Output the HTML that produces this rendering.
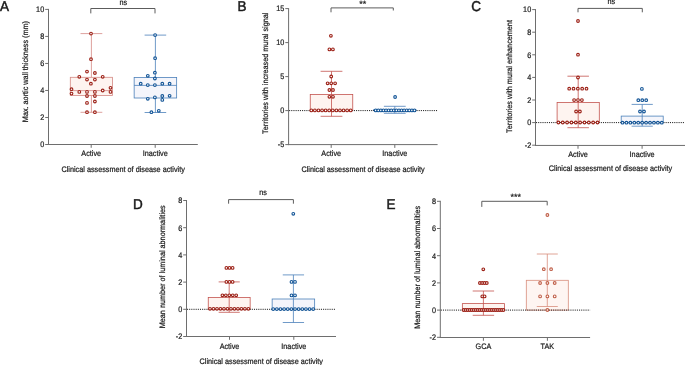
<!DOCTYPE html>
<html><head><meta charset="utf-8"><style>
html,body{margin:0;padding:0;background:#fff;width:685px;height:365px;overflow:hidden}
svg{display:block;font-family:"Liberation Sans",sans-serif;text-rendering:geometricPrecision}
#w{width:685px;height:365px;will-change:transform}
</style></head><body>
<div id="w"><svg width="685" height="365" viewBox="0 0 685 365">
<g><rect width="685" height="365" fill="#fff"/>
<line x1="48.50" y1="8.90" x2="48.50" y2="145.00" stroke="#6e6e6e" stroke-width="1.0" />
<line x1="48.00" y1="144.50" x2="197.80" y2="144.50" stroke="#6e6e6e" stroke-width="1.0" />
<line x1="45.20" y1="144.50" x2="48.50" y2="144.50" stroke="#6e6e6e" stroke-width="1.0" />
<text transform="translate(44.20 147.30) scale(1 1.1)" font-size="7.25" text-anchor="end" fill="#1a1a1a" stroke="#1a1a1a" stroke-width="0.2">0</text>
<line x1="45.20" y1="117.48" x2="48.50" y2="117.48" stroke="#6e6e6e" stroke-width="1.0" />
<text transform="translate(44.20 120.28) scale(1 1.1)" font-size="7.25" text-anchor="end" fill="#1a1a1a" stroke="#1a1a1a" stroke-width="0.2">2</text>
<line x1="45.20" y1="90.46" x2="48.50" y2="90.46" stroke="#6e6e6e" stroke-width="1.0" />
<text transform="translate(44.20 93.26) scale(1 1.1)" font-size="7.25" text-anchor="end" fill="#1a1a1a" stroke="#1a1a1a" stroke-width="0.2">4</text>
<line x1="45.20" y1="63.44" x2="48.50" y2="63.44" stroke="#6e6e6e" stroke-width="1.0" />
<text transform="translate(44.20 66.24) scale(1 1.1)" font-size="7.25" text-anchor="end" fill="#1a1a1a" stroke="#1a1a1a" stroke-width="0.2">6</text>
<line x1="45.20" y1="36.42" x2="48.50" y2="36.42" stroke="#6e6e6e" stroke-width="1.0" />
<text transform="translate(44.20 39.22) scale(1 1.1)" font-size="7.25" text-anchor="end" fill="#1a1a1a" stroke="#1a1a1a" stroke-width="0.2">8</text>
<line x1="45.20" y1="9.40" x2="48.50" y2="9.40" stroke="#6e6e6e" stroke-width="1.0" />
<text transform="translate(44.20 12.20) scale(1 1.1)" font-size="7.25" text-anchor="end" fill="#1a1a1a" stroke="#1a1a1a" stroke-width="0.2">10</text>
<line x1="91.20" y1="144.50" x2="91.20" y2="147.80" stroke="#6e6e6e" stroke-width="1.0" />
<line x1="155.20" y1="144.50" x2="155.20" y2="147.80" stroke="#6e6e6e" stroke-width="1.0" />
<text transform="translate(91.20 156.20) scale(1 1.1)" font-size="7.25" text-anchor="middle" fill="#1a1a1a" stroke="#1a1a1a" stroke-width="0.2">Active</text>
<text transform="translate(155.20 156.20) scale(1 1.1)" font-size="7.25" text-anchor="middle" fill="#1a1a1a" stroke="#1a1a1a" stroke-width="0.2">Inactive</text>
<text transform="translate(123.15 172.40) scale(1 1.1)" font-size="7.25" text-anchor="middle" fill="#1a1a1a" stroke="#1a1a1a" stroke-width="0.2">Clinical assessment of disease activity</text>
<text transform="translate(28.40 71.60) rotate(-90) scale(1 1.1)" font-size="7.25" text-anchor="middle" fill="#1a1a1a" stroke="#1a1a1a" stroke-width="0.2">Max. aortic wall thickness (mm)</text>
<line x1="91.40" y1="33.60" x2="91.40" y2="77.30" stroke="#d48984" stroke-width="0.8" />
<line x1="91.40" y1="95.40" x2="91.40" y2="112.30" stroke="#d48984" stroke-width="0.8" />
<line x1="80.50" y1="33.60" x2="102.30" y2="33.60" stroke="#d48984" stroke-width="0.8" />
<line x1="80.50" y1="112.30" x2="102.30" y2="112.30" stroke="#d48984" stroke-width="0.8" />
<rect x="70.30" y="77.30" width="42.20" height="18.10" fill="#fef4f0" stroke="#d48984" stroke-width="0.8"/>
<line x1="70.30" y1="90.60" x2="112.50" y2="90.60" stroke="#d48984" stroke-width="0.8" />
<line x1="155.40" y1="35.10" x2="155.40" y2="77.40" stroke="#4b80ba" stroke-width="0.8" />
<line x1="155.40" y1="98.00" x2="155.40" y2="112.50" stroke="#4b80ba" stroke-width="0.8" />
<line x1="144.60" y1="35.10" x2="166.20" y2="35.10" stroke="#4b80ba" stroke-width="0.8" />
<line x1="144.60" y1="112.50" x2="166.20" y2="112.50" stroke="#4b80ba" stroke-width="0.8" />
<rect x="134.15" y="77.40" width="42.50" height="20.60" fill="#f4f5fb" stroke="#4b80ba" stroke-width="0.8"/>
<line x1="134.15" y1="85.40" x2="176.65" y2="85.40" stroke="#4b80ba" stroke-width="0.8" />
<circle cx="91.00" cy="33.60" r="1.35" fill="#fff" stroke="#9c2016" stroke-width="1.1"/>
<circle cx="91.00" cy="59.20" r="1.35" fill="#fff" stroke="#9c2016" stroke-width="1.1"/>
<circle cx="87.00" cy="71.60" r="1.35" fill="#fff" stroke="#9c2016" stroke-width="1.1"/>
<circle cx="94.90" cy="73.00" r="1.35" fill="#fff" stroke="#9c2016" stroke-width="1.1"/>
<circle cx="79.30" cy="76.80" r="1.35" fill="#fff" stroke="#9c2016" stroke-width="1.1"/>
<circle cx="102.70" cy="76.80" r="1.35" fill="#fff" stroke="#9c2016" stroke-width="1.1"/>
<circle cx="87.00" cy="79.60" r="1.35" fill="#fff" stroke="#9c2016" stroke-width="1.1"/>
<circle cx="94.90" cy="79.60" r="1.35" fill="#fff" stroke="#9c2016" stroke-width="1.1"/>
<circle cx="90.90" cy="83.70" r="1.35" fill="#fff" stroke="#9c2016" stroke-width="1.1"/>
<circle cx="71.50" cy="89.20" r="1.35" fill="#fff" stroke="#9c2016" stroke-width="1.1"/>
<circle cx="71.50" cy="93.60" r="1.35" fill="#fff" stroke="#9c2016" stroke-width="1.1"/>
<circle cx="79.30" cy="91.90" r="1.35" fill="#fff" stroke="#9c2016" stroke-width="1.1"/>
<circle cx="87.00" cy="91.90" r="1.35" fill="#fff" stroke="#9c2016" stroke-width="1.1"/>
<circle cx="94.90" cy="91.90" r="1.35" fill="#fff" stroke="#9c2016" stroke-width="1.1"/>
<circle cx="102.70" cy="90.50" r="1.35" fill="#fff" stroke="#9c2016" stroke-width="1.1"/>
<circle cx="110.50" cy="87.80" r="1.35" fill="#fff" stroke="#9c2016" stroke-width="1.1"/>
<circle cx="110.50" cy="91.90" r="1.35" fill="#fff" stroke="#9c2016" stroke-width="1.1"/>
<circle cx="87.00" cy="96.00" r="1.35" fill="#fff" stroke="#9c2016" stroke-width="1.1"/>
<circle cx="94.90" cy="96.00" r="1.35" fill="#fff" stroke="#9c2016" stroke-width="1.1"/>
<circle cx="87.00" cy="102.90" r="1.35" fill="#fff" stroke="#9c2016" stroke-width="1.1"/>
<circle cx="94.90" cy="101.50" r="1.35" fill="#fff" stroke="#9c2016" stroke-width="1.1"/>
<circle cx="87.00" cy="112.20" r="1.35" fill="#fff" stroke="#9c2016" stroke-width="1.1"/>
<circle cx="94.90" cy="112.20" r="1.35" fill="#fff" stroke="#9c2016" stroke-width="1.1"/>
<circle cx="155.10" cy="35.10" r="1.35" fill="#fff" stroke="#135597" stroke-width="1.1"/>
<circle cx="155.10" cy="58.20" r="1.35" fill="#fff" stroke="#135597" stroke-width="1.1"/>
<circle cx="154.90" cy="72.70" r="1.35" fill="#fff" stroke="#135597" stroke-width="1.1"/>
<circle cx="147.80" cy="75.80" r="1.35" fill="#fff" stroke="#135597" stroke-width="1.1"/>
<circle cx="154.90" cy="78.50" r="1.35" fill="#fff" stroke="#135597" stroke-width="1.1"/>
<circle cx="140.70" cy="83.70" r="1.35" fill="#fff" stroke="#135597" stroke-width="1.1"/>
<circle cx="147.80" cy="85.10" r="1.35" fill="#fff" stroke="#135597" stroke-width="1.1"/>
<circle cx="154.90" cy="85.10" r="1.35" fill="#fff" stroke="#135597" stroke-width="1.1"/>
<circle cx="162.30" cy="83.70" r="1.35" fill="#fff" stroke="#135597" stroke-width="1.1"/>
<circle cx="169.60" cy="83.70" r="1.35" fill="#fff" stroke="#135597" stroke-width="1.1"/>
<circle cx="147.80" cy="98.80" r="1.35" fill="#fff" stroke="#135597" stroke-width="1.1"/>
<circle cx="154.90" cy="97.40" r="1.35" fill="#fff" stroke="#135597" stroke-width="1.1"/>
<circle cx="162.30" cy="96.00" r="1.35" fill="#fff" stroke="#135597" stroke-width="1.1"/>
<circle cx="162.30" cy="99.90" r="1.35" fill="#fff" stroke="#135597" stroke-width="1.1"/>
<circle cx="169.60" cy="95.80" r="1.35" fill="#fff" stroke="#135597" stroke-width="1.1"/>
<circle cx="151.40" cy="112.20" r="1.35" fill="#fff" stroke="#135597" stroke-width="1.1"/>
<circle cx="158.80" cy="110.80" r="1.35" fill="#fff" stroke="#135597" stroke-width="1.1"/>
<path d="M90.80 13.40 V8.50 H155.00 V13.40" fill="none" stroke="#5c5c5c" stroke-width="1"/>
<text transform="translate(123.30 4.90) scale(1 1.1)" font-size="7.25" text-anchor="middle" fill="#1a1a1a" stroke="#1a1a1a" stroke-width="0.2">ns</text>
<line x1="288.60" y1="8.10" x2="288.60" y2="145.10" stroke="#6e6e6e" stroke-width="1.0" />
<line x1="288.10" y1="144.60" x2="437.60" y2="144.60" stroke="#6e6e6e" stroke-width="1.0" />
<line x1="285.30" y1="144.60" x2="288.60" y2="144.60" stroke="#6e6e6e" stroke-width="1.0" />
<text transform="translate(284.30 147.40) scale(1 1.1)" font-size="7.25" text-anchor="end" fill="#1a1a1a" stroke="#1a1a1a" stroke-width="0.2">-5</text>
<line x1="285.30" y1="110.60" x2="288.60" y2="110.60" stroke="#6e6e6e" stroke-width="1.0" />
<text transform="translate(284.30 113.40) scale(1 1.1)" font-size="7.25" text-anchor="end" fill="#1a1a1a" stroke="#1a1a1a" stroke-width="0.2">0</text>
<line x1="285.30" y1="76.60" x2="288.60" y2="76.60" stroke="#6e6e6e" stroke-width="1.0" />
<text transform="translate(284.30 79.40) scale(1 1.1)" font-size="7.25" text-anchor="end" fill="#1a1a1a" stroke="#1a1a1a" stroke-width="0.2">5</text>
<line x1="285.30" y1="42.60" x2="288.60" y2="42.60" stroke="#6e6e6e" stroke-width="1.0" />
<text transform="translate(284.30 45.40) scale(1 1.1)" font-size="7.25" text-anchor="end" fill="#1a1a1a" stroke="#1a1a1a" stroke-width="0.2">10</text>
<line x1="285.30" y1="8.60" x2="288.60" y2="8.60" stroke="#6e6e6e" stroke-width="1.0" />
<text transform="translate(284.30 11.40) scale(1 1.1)" font-size="7.25" text-anchor="end" fill="#1a1a1a" stroke="#1a1a1a" stroke-width="0.2">15</text>
<line x1="331.20" y1="144.60" x2="331.20" y2="147.90" stroke="#6e6e6e" stroke-width="1.0" />
<line x1="394.80" y1="144.60" x2="394.80" y2="147.90" stroke="#6e6e6e" stroke-width="1.0" />
<text transform="translate(331.20 155.80) scale(1 1.1)" font-size="7.25" text-anchor="middle" fill="#1a1a1a" stroke="#1a1a1a" stroke-width="0.2">Active</text>
<text transform="translate(394.80 155.80) scale(1 1.1)" font-size="7.25" text-anchor="middle" fill="#1a1a1a" stroke="#1a1a1a" stroke-width="0.2">Inactive</text>
<text transform="translate(363.10 171.80) scale(1 1.1)" font-size="7.25" text-anchor="middle" fill="#1a1a1a" stroke="#1a1a1a" stroke-width="0.2">Clinical assessment of disease activity</text>
<text transform="translate(268.30 73.30) rotate(-90) scale(1 1.1)" font-size="7.25" text-anchor="middle" fill="#1a1a1a" stroke="#1a1a1a" stroke-width="0.2">Territories with increased mural signal</text>
<rect x="310.25" y="94.50" width="42.50" height="16.10" fill="#fef4f0" stroke="#c4544f" stroke-width="0.8"/>
<line x1="331.50" y1="71.30" x2="331.50" y2="116.30" stroke="#c4544f" stroke-width="0.8" />
<line x1="320.60" y1="71.30" x2="342.40" y2="71.30" stroke="#c4544f" stroke-width="0.8" />
<line x1="320.60" y1="116.30" x2="342.40" y2="116.30" stroke="#c4544f" stroke-width="0.8" />
<rect x="373.55" y="109.80" width="42.50" height="0.80" fill="#f4f5fb" stroke="#4b80ba" stroke-width="0.8"/>
<line x1="394.80" y1="106.30" x2="394.80" y2="113.30" stroke="#4b80ba" stroke-width="0.8" />
<line x1="383.90" y1="106.30" x2="405.70" y2="106.30" stroke="#4b80ba" stroke-width="0.8" />
<line x1="383.90" y1="113.30" x2="405.70" y2="113.30" stroke="#4b80ba" stroke-width="0.8" />
<line x1="289.10" y1="110.60" x2="437.60" y2="110.60" stroke="#1a1a1a" stroke-width="1.0" stroke-dasharray="1.08 1.08"/>
<circle cx="330.90" cy="35.80" r="1.35" fill="#fff" stroke="#9c2016" stroke-width="1.1"/>
<circle cx="329.40" cy="49.40" r="1.35" fill="#fff" stroke="#9c2016" stroke-width="1.1"/>
<circle cx="332.90" cy="49.40" r="1.35" fill="#fff" stroke="#9c2016" stroke-width="1.1"/>
<circle cx="331.20" cy="76.50" r="1.35" fill="#fff" stroke="#9c2016" stroke-width="1.1"/>
<circle cx="327.60" cy="83.30" r="1.35" fill="#fff" stroke="#9c2016" stroke-width="1.1"/>
<circle cx="331.20" cy="83.30" r="1.35" fill="#fff" stroke="#9c2016" stroke-width="1.1"/>
<circle cx="335.10" cy="83.30" r="1.35" fill="#fff" stroke="#9c2016" stroke-width="1.1"/>
<circle cx="329.40" cy="90.00" r="1.35" fill="#fff" stroke="#9c2016" stroke-width="1.1"/>
<circle cx="333.00" cy="90.00" r="1.35" fill="#fff" stroke="#9c2016" stroke-width="1.1"/>
<circle cx="329.40" cy="96.80" r="1.35" fill="#fff" stroke="#9c2016" stroke-width="1.1"/>
<circle cx="333.00" cy="96.80" r="1.35" fill="#fff" stroke="#9c2016" stroke-width="1.1"/>
<circle cx="311.30" cy="110.40" r="1.35" fill="#fff" stroke="#9c2016" stroke-width="1.1"/>
<circle cx="314.88" cy="110.40" r="1.35" fill="#fff" stroke="#9c2016" stroke-width="1.1"/>
<circle cx="318.46" cy="110.40" r="1.35" fill="#fff" stroke="#9c2016" stroke-width="1.1"/>
<circle cx="322.05" cy="110.40" r="1.35" fill="#fff" stroke="#9c2016" stroke-width="1.1"/>
<circle cx="325.63" cy="110.40" r="1.35" fill="#fff" stroke="#9c2016" stroke-width="1.1"/>
<circle cx="329.21" cy="110.40" r="1.35" fill="#fff" stroke="#9c2016" stroke-width="1.1"/>
<circle cx="332.79" cy="110.40" r="1.35" fill="#fff" stroke="#9c2016" stroke-width="1.1"/>
<circle cx="336.37" cy="110.40" r="1.35" fill="#fff" stroke="#9c2016" stroke-width="1.1"/>
<circle cx="339.95" cy="110.40" r="1.35" fill="#fff" stroke="#9c2016" stroke-width="1.1"/>
<circle cx="343.54" cy="110.40" r="1.35" fill="#fff" stroke="#9c2016" stroke-width="1.1"/>
<circle cx="347.12" cy="110.40" r="1.35" fill="#fff" stroke="#9c2016" stroke-width="1.1"/>
<circle cx="350.70" cy="110.40" r="1.35" fill="#fff" stroke="#9c2016" stroke-width="1.1"/>
<circle cx="395.10" cy="97.00" r="1.35" fill="#fff" stroke="#135597" stroke-width="1.1"/>
<circle cx="375.70" cy="110.40" r="1.35" fill="#fff" stroke="#135597" stroke-width="1.1"/>
<circle cx="378.29" cy="110.40" r="1.35" fill="#fff" stroke="#135597" stroke-width="1.1"/>
<circle cx="380.87" cy="110.40" r="1.35" fill="#fff" stroke="#135597" stroke-width="1.1"/>
<circle cx="383.46" cy="110.40" r="1.35" fill="#fff" stroke="#135597" stroke-width="1.1"/>
<circle cx="386.05" cy="110.40" r="1.35" fill="#fff" stroke="#135597" stroke-width="1.1"/>
<circle cx="388.63" cy="110.40" r="1.35" fill="#fff" stroke="#135597" stroke-width="1.1"/>
<circle cx="391.22" cy="110.40" r="1.35" fill="#fff" stroke="#135597" stroke-width="1.1"/>
<circle cx="393.81" cy="110.40" r="1.35" fill="#fff" stroke="#135597" stroke-width="1.1"/>
<circle cx="396.39" cy="110.40" r="1.35" fill="#fff" stroke="#135597" stroke-width="1.1"/>
<circle cx="398.98" cy="110.40" r="1.35" fill="#fff" stroke="#135597" stroke-width="1.1"/>
<circle cx="401.57" cy="110.40" r="1.35" fill="#fff" stroke="#135597" stroke-width="1.1"/>
<circle cx="404.15" cy="110.40" r="1.35" fill="#fff" stroke="#135597" stroke-width="1.1"/>
<circle cx="406.74" cy="110.40" r="1.35" fill="#fff" stroke="#135597" stroke-width="1.1"/>
<circle cx="409.33" cy="110.40" r="1.35" fill="#fff" stroke="#135597" stroke-width="1.1"/>
<circle cx="411.91" cy="110.40" r="1.35" fill="#fff" stroke="#135597" stroke-width="1.1"/>
<circle cx="414.50" cy="110.40" r="1.35" fill="#fff" stroke="#135597" stroke-width="1.1"/>
<path d="M331.00 12.30 V7.90 H393.30 V10.50" fill="none" stroke="#5c5c5c" stroke-width="1"/>
<text transform="translate(362.70 6.90) scale(1 1.0)" font-size="9" text-anchor="middle" fill="#1a1a1a" stroke="#1a1a1a" stroke-width="0.2">**</text>
<line x1="535.50" y1="9.10" x2="535.50" y2="145.95" stroke="#6e6e6e" stroke-width="1.0" />
<line x1="535.00" y1="145.45" x2="685.50" y2="145.45" stroke="#6e6e6e" stroke-width="1.0" />
<line x1="532.20" y1="145.20" x2="535.50" y2="145.20" stroke="#6e6e6e" stroke-width="1.0" />
<text transform="translate(531.20 148.00) scale(1 1.1)" font-size="7.25" text-anchor="end" fill="#1a1a1a" stroke="#1a1a1a" stroke-width="0.2">-2</text>
<line x1="532.20" y1="122.60" x2="535.50" y2="122.60" stroke="#6e6e6e" stroke-width="1.0" />
<text transform="translate(531.20 125.40) scale(1 1.1)" font-size="7.25" text-anchor="end" fill="#1a1a1a" stroke="#1a1a1a" stroke-width="0.2">0</text>
<line x1="532.20" y1="100.00" x2="535.50" y2="100.00" stroke="#6e6e6e" stroke-width="1.0" />
<text transform="translate(531.20 102.80) scale(1 1.1)" font-size="7.25" text-anchor="end" fill="#1a1a1a" stroke="#1a1a1a" stroke-width="0.2">2</text>
<line x1="532.20" y1="77.40" x2="535.50" y2="77.40" stroke="#6e6e6e" stroke-width="1.0" />
<text transform="translate(531.20 80.20) scale(1 1.1)" font-size="7.25" text-anchor="end" fill="#1a1a1a" stroke="#1a1a1a" stroke-width="0.2">4</text>
<line x1="532.20" y1="54.80" x2="535.50" y2="54.80" stroke="#6e6e6e" stroke-width="1.0" />
<text transform="translate(531.20 57.60) scale(1 1.1)" font-size="7.25" text-anchor="end" fill="#1a1a1a" stroke="#1a1a1a" stroke-width="0.2">6</text>
<line x1="532.20" y1="32.20" x2="535.50" y2="32.20" stroke="#6e6e6e" stroke-width="1.0" />
<text transform="translate(531.20 35.00) scale(1 1.1)" font-size="7.25" text-anchor="end" fill="#1a1a1a" stroke="#1a1a1a" stroke-width="0.2">8</text>
<line x1="532.20" y1="9.60" x2="535.50" y2="9.60" stroke="#6e6e6e" stroke-width="1.0" />
<text transform="translate(531.20 12.40) scale(1 1.1)" font-size="7.25" text-anchor="end" fill="#1a1a1a" stroke="#1a1a1a" stroke-width="0.2">10</text>
<line x1="578.00" y1="145.45" x2="578.00" y2="148.75" stroke="#6e6e6e" stroke-width="1.0" />
<line x1="642.10" y1="145.45" x2="642.10" y2="148.75" stroke="#6e6e6e" stroke-width="1.0" />
<text transform="translate(578.00 156.50) scale(1 1.1)" font-size="7.25" text-anchor="middle" fill="#1a1a1a" stroke="#1a1a1a" stroke-width="0.2">Active</text>
<text transform="translate(642.10 156.50) scale(1 1.1)" font-size="7.25" text-anchor="middle" fill="#1a1a1a" stroke="#1a1a1a" stroke-width="0.2">Inactive</text>
<text transform="translate(610.50 170.70) scale(1 1.1)" font-size="7.25" text-anchor="middle" fill="#1a1a1a" stroke="#1a1a1a" stroke-width="0.2">Clinical assessment of disease activity</text>
<text transform="translate(511.90 76.50) rotate(-90) scale(1 1.1)" font-size="7.25" text-anchor="middle" fill="#1a1a1a" stroke="#1a1a1a" stroke-width="0.2">Territories with mural enhancement</text>
<rect x="557.10" y="102.40" width="42.20" height="20.20" fill="#fef4f0" stroke="#c4544f" stroke-width="0.8"/>
<line x1="578.20" y1="76.20" x2="578.20" y2="127.70" stroke="#c4544f" stroke-width="0.8" />
<line x1="567.45" y1="76.20" x2="588.95" y2="76.20" stroke="#c4544f" stroke-width="0.8" />
<line x1="567.45" y1="127.70" x2="588.95" y2="127.70" stroke="#c4544f" stroke-width="0.8" />
<rect x="621.20" y="116.10" width="42.00" height="6.50" fill="#f4f5fb" stroke="#4b80ba" stroke-width="0.8"/>
<line x1="642.20" y1="104.40" x2="642.20" y2="126.20" stroke="#4b80ba" stroke-width="0.8" />
<line x1="631.60" y1="104.40" x2="652.80" y2="104.40" stroke="#4b80ba" stroke-width="0.8" />
<line x1="631.60" y1="126.20" x2="652.80" y2="126.20" stroke="#4b80ba" stroke-width="0.8" />
<line x1="536.00" y1="122.60" x2="685.50" y2="122.60" stroke="#1a1a1a" stroke-width="1.0" stroke-dasharray="1.08 1.08"/>
<circle cx="578.00" cy="21.00" r="1.35" fill="#fff" stroke="#9c2016" stroke-width="1.1"/>
<circle cx="578.00" cy="54.70" r="1.35" fill="#fff" stroke="#9c2016" stroke-width="1.1"/>
<circle cx="578.00" cy="77.50" r="1.35" fill="#fff" stroke="#9c2016" stroke-width="1.1"/>
<circle cx="576.10" cy="111.50" r="1.35" fill="#fff" stroke="#9c2016" stroke-width="1.1"/>
<circle cx="579.90" cy="111.50" r="1.35" fill="#fff" stroke="#9c2016" stroke-width="1.1"/>
<circle cx="569.20" cy="88.70" r="1.35" fill="#fff" stroke="#9c2016" stroke-width="1.1"/>
<circle cx="573.53" cy="88.70" r="1.35" fill="#fff" stroke="#9c2016" stroke-width="1.1"/>
<circle cx="577.85" cy="88.70" r="1.35" fill="#fff" stroke="#9c2016" stroke-width="1.1"/>
<circle cx="582.17" cy="88.70" r="1.35" fill="#fff" stroke="#9c2016" stroke-width="1.1"/>
<circle cx="586.50" cy="88.70" r="1.35" fill="#fff" stroke="#9c2016" stroke-width="1.1"/>
<circle cx="574.10" cy="100.10" r="1.35" fill="#fff" stroke="#9c2016" stroke-width="1.1"/>
<circle cx="578.00" cy="100.10" r="1.35" fill="#fff" stroke="#9c2016" stroke-width="1.1"/>
<circle cx="581.90" cy="100.10" r="1.35" fill="#fff" stroke="#9c2016" stroke-width="1.1"/>
<circle cx="558.40" cy="122.50" r="1.35" fill="#fff" stroke="#9c2016" stroke-width="1.1"/>
<circle cx="562.74" cy="122.50" r="1.35" fill="#fff" stroke="#9c2016" stroke-width="1.1"/>
<circle cx="567.09" cy="122.50" r="1.35" fill="#fff" stroke="#9c2016" stroke-width="1.1"/>
<circle cx="571.43" cy="122.50" r="1.35" fill="#fff" stroke="#9c2016" stroke-width="1.1"/>
<circle cx="575.78" cy="122.50" r="1.35" fill="#fff" stroke="#9c2016" stroke-width="1.1"/>
<circle cx="580.12" cy="122.50" r="1.35" fill="#fff" stroke="#9c2016" stroke-width="1.1"/>
<circle cx="584.47" cy="122.50" r="1.35" fill="#fff" stroke="#9c2016" stroke-width="1.1"/>
<circle cx="588.81" cy="122.50" r="1.35" fill="#fff" stroke="#9c2016" stroke-width="1.1"/>
<circle cx="593.16" cy="122.50" r="1.35" fill="#fff" stroke="#9c2016" stroke-width="1.1"/>
<circle cx="597.50" cy="122.50" r="1.35" fill="#fff" stroke="#9c2016" stroke-width="1.1"/>
<circle cx="641.90" cy="88.90" r="1.35" fill="#fff" stroke="#135597" stroke-width="1.1"/>
<circle cx="640.00" cy="111.50" r="1.35" fill="#fff" stroke="#135597" stroke-width="1.1"/>
<circle cx="644.00" cy="111.50" r="1.35" fill="#fff" stroke="#135597" stroke-width="1.1"/>
<circle cx="638.30" cy="100.20" r="1.35" fill="#fff" stroke="#135597" stroke-width="1.1"/>
<circle cx="642.25" cy="100.20" r="1.35" fill="#fff" stroke="#135597" stroke-width="1.1"/>
<circle cx="646.20" cy="100.20" r="1.35" fill="#fff" stroke="#135597" stroke-width="1.1"/>
<circle cx="622.50" cy="122.70" r="1.35" fill="#fff" stroke="#135597" stroke-width="1.1"/>
<circle cx="626.43" cy="122.70" r="1.35" fill="#fff" stroke="#135597" stroke-width="1.1"/>
<circle cx="630.36" cy="122.70" r="1.35" fill="#fff" stroke="#135597" stroke-width="1.1"/>
<circle cx="634.29" cy="122.70" r="1.35" fill="#fff" stroke="#135597" stroke-width="1.1"/>
<circle cx="638.22" cy="122.70" r="1.35" fill="#fff" stroke="#135597" stroke-width="1.1"/>
<circle cx="642.15" cy="122.70" r="1.35" fill="#fff" stroke="#135597" stroke-width="1.1"/>
<circle cx="646.08" cy="122.70" r="1.35" fill="#fff" stroke="#135597" stroke-width="1.1"/>
<circle cx="650.01" cy="122.70" r="1.35" fill="#fff" stroke="#135597" stroke-width="1.1"/>
<circle cx="653.94" cy="122.70" r="1.35" fill="#fff" stroke="#135597" stroke-width="1.1"/>
<circle cx="657.87" cy="122.70" r="1.35" fill="#fff" stroke="#135597" stroke-width="1.1"/>
<circle cx="661.80" cy="122.70" r="1.35" fill="#fff" stroke="#135597" stroke-width="1.1"/>
<path d="M578.00 12.30 V8.40 H642.30 V12.30" fill="none" stroke="#5c5c5c" stroke-width="1"/>
<text transform="translate(611.30 4.10) scale(1 1.1)" font-size="7.25" text-anchor="middle" fill="#1a1a1a" stroke="#1a1a1a" stroke-width="0.2">ns</text>
<line x1="186.50" y1="200.00" x2="186.50" y2="337.00" stroke="#6e6e6e" stroke-width="1.0" />
<line x1="186.00" y1="336.50" x2="336.00" y2="336.50" stroke="#6e6e6e" stroke-width="1.0" />
<line x1="183.20" y1="336.50" x2="186.50" y2="336.50" stroke="#6e6e6e" stroke-width="1.0" />
<text transform="translate(182.20 339.30) scale(1 1.1)" font-size="7.25" text-anchor="end" fill="#1a1a1a" stroke="#1a1a1a" stroke-width="0.2">-2</text>
<line x1="183.20" y1="309.30" x2="186.50" y2="309.30" stroke="#6e6e6e" stroke-width="1.0" />
<text transform="translate(182.20 312.10) scale(1 1.1)" font-size="7.25" text-anchor="end" fill="#1a1a1a" stroke="#1a1a1a" stroke-width="0.2">0</text>
<line x1="183.20" y1="282.10" x2="186.50" y2="282.10" stroke="#6e6e6e" stroke-width="1.0" />
<text transform="translate(182.20 284.90) scale(1 1.1)" font-size="7.25" text-anchor="end" fill="#1a1a1a" stroke="#1a1a1a" stroke-width="0.2">2</text>
<line x1="183.20" y1="254.90" x2="186.50" y2="254.90" stroke="#6e6e6e" stroke-width="1.0" />
<text transform="translate(182.20 257.70) scale(1 1.1)" font-size="7.25" text-anchor="end" fill="#1a1a1a" stroke="#1a1a1a" stroke-width="0.2">4</text>
<line x1="183.20" y1="227.70" x2="186.50" y2="227.70" stroke="#6e6e6e" stroke-width="1.0" />
<text transform="translate(182.20 230.50) scale(1 1.1)" font-size="7.25" text-anchor="end" fill="#1a1a1a" stroke="#1a1a1a" stroke-width="0.2">6</text>
<line x1="183.20" y1="200.50" x2="186.50" y2="200.50" stroke="#6e6e6e" stroke-width="1.0" />
<text transform="translate(182.20 203.30) scale(1 1.1)" font-size="7.25" text-anchor="end" fill="#1a1a1a" stroke="#1a1a1a" stroke-width="0.2">8</text>
<line x1="229.50" y1="336.50" x2="229.50" y2="339.80" stroke="#6e6e6e" stroke-width="1.0" />
<line x1="293.80" y1="336.50" x2="293.80" y2="339.80" stroke="#6e6e6e" stroke-width="1.0" />
<text transform="translate(229.50 348.70) scale(1 1.1)" font-size="7.25" text-anchor="middle" fill="#1a1a1a" stroke="#1a1a1a" stroke-width="0.2">Active</text>
<text transform="translate(293.80 348.70) scale(1 1.1)" font-size="7.25" text-anchor="middle" fill="#1a1a1a" stroke="#1a1a1a" stroke-width="0.2">Inactive</text>
<text transform="translate(261.25 363.50) scale(1 1.1)" font-size="7.25" text-anchor="middle" fill="#1a1a1a" stroke="#1a1a1a" stroke-width="0.2">Clinical assessment of disease activity</text>
<text transform="translate(164.60 266.80) rotate(-90) scale(1 1.1)" font-size="7.25" text-anchor="middle" fill="#1a1a1a" stroke="#1a1a1a" stroke-width="0.2">Mean number of luminal abnormalities</text>
<rect x="208.25" y="297.50" width="41.90" height="11.80" fill="#fef4f0" stroke="#c4544f" stroke-width="0.8"/>
<line x1="229.20" y1="281.90" x2="229.20" y2="312.30" stroke="#c4544f" stroke-width="0.8" />
<line x1="218.65" y1="281.90" x2="239.75" y2="281.90" stroke="#c4544f" stroke-width="0.8" />
<line x1="218.65" y1="312.30" x2="239.75" y2="312.30" stroke="#c4544f" stroke-width="0.8" />
<rect x="272.15" y="299.00" width="42.50" height="10.30" fill="#f4f5fb" stroke="#4b80ba" stroke-width="0.8"/>
<line x1="293.40" y1="274.90" x2="293.40" y2="322.50" stroke="#4b80ba" stroke-width="0.8" />
<line x1="282.75" y1="274.90" x2="304.05" y2="274.90" stroke="#4b80ba" stroke-width="0.8" />
<line x1="282.75" y1="322.50" x2="304.05" y2="322.50" stroke="#4b80ba" stroke-width="0.8" />
<line x1="187.00" y1="309.30" x2="336.00" y2="309.30" stroke="#1a1a1a" stroke-width="1.0" stroke-dasharray="1.08 1.08"/>
<circle cx="226.40" cy="267.90" r="1.35" fill="#fff" stroke="#9c2016" stroke-width="1.1"/>
<circle cx="229.50" cy="267.90" r="1.35" fill="#fff" stroke="#9c2016" stroke-width="1.1"/>
<circle cx="232.60" cy="267.90" r="1.35" fill="#fff" stroke="#9c2016" stroke-width="1.1"/>
<circle cx="226.40" cy="281.90" r="1.35" fill="#fff" stroke="#9c2016" stroke-width="1.1"/>
<circle cx="229.50" cy="281.90" r="1.35" fill="#fff" stroke="#9c2016" stroke-width="1.1"/>
<circle cx="232.60" cy="281.90" r="1.35" fill="#fff" stroke="#9c2016" stroke-width="1.1"/>
<circle cx="222.40" cy="295.30" r="1.35" fill="#fff" stroke="#9c2016" stroke-width="1.1"/>
<circle cx="225.85" cy="295.30" r="1.35" fill="#fff" stroke="#9c2016" stroke-width="1.1"/>
<circle cx="229.30" cy="295.30" r="1.35" fill="#fff" stroke="#9c2016" stroke-width="1.1"/>
<circle cx="232.75" cy="295.30" r="1.35" fill="#fff" stroke="#9c2016" stroke-width="1.1"/>
<circle cx="236.20" cy="295.30" r="1.35" fill="#fff" stroke="#9c2016" stroke-width="1.1"/>
<circle cx="210.00" cy="308.80" r="1.35" fill="#fff" stroke="#9c2016" stroke-width="1.1"/>
<circle cx="213.49" cy="308.80" r="1.35" fill="#fff" stroke="#9c2016" stroke-width="1.1"/>
<circle cx="216.98" cy="308.80" r="1.35" fill="#fff" stroke="#9c2016" stroke-width="1.1"/>
<circle cx="220.47" cy="308.80" r="1.35" fill="#fff" stroke="#9c2016" stroke-width="1.1"/>
<circle cx="223.96" cy="308.80" r="1.35" fill="#fff" stroke="#9c2016" stroke-width="1.1"/>
<circle cx="227.45" cy="308.80" r="1.35" fill="#fff" stroke="#9c2016" stroke-width="1.1"/>
<circle cx="230.95" cy="308.80" r="1.35" fill="#fff" stroke="#9c2016" stroke-width="1.1"/>
<circle cx="234.44" cy="308.80" r="1.35" fill="#fff" stroke="#9c2016" stroke-width="1.1"/>
<circle cx="237.93" cy="308.80" r="1.35" fill="#fff" stroke="#9c2016" stroke-width="1.1"/>
<circle cx="241.42" cy="308.80" r="1.35" fill="#fff" stroke="#9c2016" stroke-width="1.1"/>
<circle cx="244.91" cy="308.80" r="1.35" fill="#fff" stroke="#9c2016" stroke-width="1.1"/>
<circle cx="248.40" cy="308.80" r="1.35" fill="#fff" stroke="#9c2016" stroke-width="1.1"/>
<circle cx="293.30" cy="213.80" r="1.35" fill="#fff" stroke="#135597" stroke-width="1.1"/>
<circle cx="291.50" cy="281.90" r="1.35" fill="#fff" stroke="#135597" stroke-width="1.1"/>
<circle cx="295.00" cy="281.90" r="1.35" fill="#fff" stroke="#135597" stroke-width="1.1"/>
<circle cx="291.50" cy="295.40" r="1.35" fill="#fff" stroke="#135597" stroke-width="1.1"/>
<circle cx="295.00" cy="295.40" r="1.35" fill="#fff" stroke="#135597" stroke-width="1.1"/>
<circle cx="273.20" cy="309.10" r="1.35" fill="#fff" stroke="#135597" stroke-width="1.1"/>
<circle cx="276.84" cy="309.10" r="1.35" fill="#fff" stroke="#135597" stroke-width="1.1"/>
<circle cx="280.47" cy="309.10" r="1.35" fill="#fff" stroke="#135597" stroke-width="1.1"/>
<circle cx="284.11" cy="309.10" r="1.35" fill="#fff" stroke="#135597" stroke-width="1.1"/>
<circle cx="287.75" cy="309.10" r="1.35" fill="#fff" stroke="#135597" stroke-width="1.1"/>
<circle cx="291.38" cy="309.10" r="1.35" fill="#fff" stroke="#135597" stroke-width="1.1"/>
<circle cx="295.02" cy="309.10" r="1.35" fill="#fff" stroke="#135597" stroke-width="1.1"/>
<circle cx="298.65" cy="309.10" r="1.35" fill="#fff" stroke="#135597" stroke-width="1.1"/>
<circle cx="302.29" cy="309.10" r="1.35" fill="#fff" stroke="#135597" stroke-width="1.1"/>
<circle cx="305.93" cy="309.10" r="1.35" fill="#fff" stroke="#135597" stroke-width="1.1"/>
<circle cx="309.56" cy="309.10" r="1.35" fill="#fff" stroke="#135597" stroke-width="1.1"/>
<circle cx="313.20" cy="309.10" r="1.35" fill="#fff" stroke="#135597" stroke-width="1.1"/>
<path d="M228.60 203.70 V199.60 H293.40 V203.70" fill="none" stroke="#5c5c5c" stroke-width="1"/>
<text transform="translate(263.00 195.20) scale(1 1.1)" font-size="7.25" text-anchor="middle" fill="#1a1a1a" stroke="#1a1a1a" stroke-width="0.2">ns</text>
<line x1="440.30" y1="200.80" x2="440.30" y2="338.00" stroke="#6e6e6e" stroke-width="1.0" />
<line x1="439.80" y1="337.50" x2="590.10" y2="337.50" stroke="#6e6e6e" stroke-width="1.0" />
<line x1="437.00" y1="337.30" x2="440.30" y2="337.30" stroke="#6e6e6e" stroke-width="1.0" />
<text transform="translate(436.00 340.10) scale(1 1.1)" font-size="7.25" text-anchor="end" fill="#1a1a1a" stroke="#1a1a1a" stroke-width="0.2">-2</text>
<line x1="437.00" y1="310.10" x2="440.30" y2="310.10" stroke="#6e6e6e" stroke-width="1.0" />
<text transform="translate(436.00 312.90) scale(1 1.1)" font-size="7.25" text-anchor="end" fill="#1a1a1a" stroke="#1a1a1a" stroke-width="0.2">0</text>
<line x1="437.00" y1="282.90" x2="440.30" y2="282.90" stroke="#6e6e6e" stroke-width="1.0" />
<text transform="translate(436.00 285.70) scale(1 1.1)" font-size="7.25" text-anchor="end" fill="#1a1a1a" stroke="#1a1a1a" stroke-width="0.2">2</text>
<line x1="437.00" y1="255.70" x2="440.30" y2="255.70" stroke="#6e6e6e" stroke-width="1.0" />
<text transform="translate(436.00 258.50) scale(1 1.1)" font-size="7.25" text-anchor="end" fill="#1a1a1a" stroke="#1a1a1a" stroke-width="0.2">4</text>
<line x1="437.00" y1="228.50" x2="440.30" y2="228.50" stroke="#6e6e6e" stroke-width="1.0" />
<text transform="translate(436.00 231.30) scale(1 1.1)" font-size="7.25" text-anchor="end" fill="#1a1a1a" stroke="#1a1a1a" stroke-width="0.2">6</text>
<line x1="437.00" y1="201.30" x2="440.30" y2="201.30" stroke="#6e6e6e" stroke-width="1.0" />
<text transform="translate(436.00 204.10) scale(1 1.1)" font-size="7.25" text-anchor="end" fill="#1a1a1a" stroke="#1a1a1a" stroke-width="0.2">8</text>
<line x1="483.40" y1="337.50" x2="483.40" y2="340.80" stroke="#6e6e6e" stroke-width="1.0" />
<line x1="547.40" y1="337.50" x2="547.40" y2="340.80" stroke="#6e6e6e" stroke-width="1.0" />
<text transform="translate(483.40 348.90) scale(1 1.1)" font-size="7.25" text-anchor="middle" fill="#1a1a1a" stroke="#1a1a1a" stroke-width="0.2">GCA</text>
<text transform="translate(547.40 348.90) scale(1 1.1)" font-size="7.25" text-anchor="middle" fill="#1a1a1a" stroke="#1a1a1a" stroke-width="0.2">TAK</text>
<text transform="translate(419.60 267.30) rotate(-90) scale(1 1.1)" font-size="7.25" text-anchor="middle" fill="#1a1a1a" stroke="#1a1a1a" stroke-width="0.2">Mean number of luminal abnormalities</text>
<rect x="462.35" y="303.60" width="42.10" height="6.50" fill="#fef4f0" stroke="#c4544f" stroke-width="0.8"/>
<line x1="483.40" y1="291.00" x2="483.40" y2="315.30" stroke="#c4544f" stroke-width="0.8" />
<line x1="472.70" y1="291.00" x2="494.10" y2="291.00" stroke="#c4544f" stroke-width="0.8" />
<line x1="472.70" y1="315.30" x2="494.10" y2="315.30" stroke="#c4544f" stroke-width="0.8" />
<rect x="526.30" y="280.30" width="42.00" height="29.80" fill="#fef5f2" stroke="#d88e7c" stroke-width="0.8"/>
<line x1="547.30" y1="254.00" x2="547.30" y2="306.50" stroke="#d88e7c" stroke-width="0.8" />
<line x1="536.80" y1="254.00" x2="557.80" y2="254.00" stroke="#d88e7c" stroke-width="0.8" />
<line x1="536.80" y1="306.50" x2="557.80" y2="306.50" stroke="#d88e7c" stroke-width="0.8" />
<line x1="440.80" y1="310.10" x2="590.10" y2="310.10" stroke="#1a1a1a" stroke-width="1.0" stroke-dasharray="1.08 1.08"/>
<circle cx="483.30" cy="269.30" r="1.35" fill="#fff" stroke="#9c2016" stroke-width="1.1"/>
<circle cx="479.90" cy="283.00" r="1.35" fill="#fff" stroke="#9c2016" stroke-width="1.1"/>
<circle cx="482.20" cy="283.00" r="1.35" fill="#fff" stroke="#9c2016" stroke-width="1.1"/>
<circle cx="484.50" cy="283.00" r="1.35" fill="#fff" stroke="#9c2016" stroke-width="1.1"/>
<circle cx="486.80" cy="283.00" r="1.35" fill="#fff" stroke="#9c2016" stroke-width="1.1"/>
<circle cx="482.30" cy="296.40" r="1.35" fill="#fff" stroke="#9c2016" stroke-width="1.1"/>
<circle cx="484.60" cy="296.40" r="1.35" fill="#fff" stroke="#9c2016" stroke-width="1.1"/>
<circle cx="463.60" cy="310.00" r="1.35" fill="#fff" stroke="#9c2016" stroke-width="1.1"/>
<circle cx="465.59" cy="310.00" r="1.35" fill="#fff" stroke="#9c2016" stroke-width="1.1"/>
<circle cx="467.58" cy="310.00" r="1.35" fill="#fff" stroke="#9c2016" stroke-width="1.1"/>
<circle cx="469.57" cy="310.00" r="1.35" fill="#fff" stroke="#9c2016" stroke-width="1.1"/>
<circle cx="471.56" cy="310.00" r="1.35" fill="#fff" stroke="#9c2016" stroke-width="1.1"/>
<circle cx="473.55" cy="310.00" r="1.35" fill="#fff" stroke="#9c2016" stroke-width="1.1"/>
<circle cx="475.54" cy="310.00" r="1.35" fill="#fff" stroke="#9c2016" stroke-width="1.1"/>
<circle cx="477.53" cy="310.00" r="1.35" fill="#fff" stroke="#9c2016" stroke-width="1.1"/>
<circle cx="479.52" cy="310.00" r="1.35" fill="#fff" stroke="#9c2016" stroke-width="1.1"/>
<circle cx="481.51" cy="310.00" r="1.35" fill="#fff" stroke="#9c2016" stroke-width="1.1"/>
<circle cx="483.50" cy="310.00" r="1.35" fill="#fff" stroke="#9c2016" stroke-width="1.1"/>
<circle cx="485.49" cy="310.00" r="1.35" fill="#fff" stroke="#9c2016" stroke-width="1.1"/>
<circle cx="487.48" cy="310.00" r="1.35" fill="#fff" stroke="#9c2016" stroke-width="1.1"/>
<circle cx="489.47" cy="310.00" r="1.35" fill="#fff" stroke="#9c2016" stroke-width="1.1"/>
<circle cx="491.46" cy="310.00" r="1.35" fill="#fff" stroke="#9c2016" stroke-width="1.1"/>
<circle cx="493.45" cy="310.00" r="1.35" fill="#fff" stroke="#9c2016" stroke-width="1.1"/>
<circle cx="495.44" cy="310.00" r="1.35" fill="#fff" stroke="#9c2016" stroke-width="1.1"/>
<circle cx="497.43" cy="310.00" r="1.35" fill="#fff" stroke="#9c2016" stroke-width="1.1"/>
<circle cx="499.42" cy="310.00" r="1.35" fill="#fff" stroke="#9c2016" stroke-width="1.1"/>
<circle cx="501.41" cy="310.00" r="1.35" fill="#fff" stroke="#9c2016" stroke-width="1.1"/>
<circle cx="503.40" cy="310.00" r="1.35" fill="#fff" stroke="#9c2016" stroke-width="1.1"/>
<circle cx="547.40" cy="215.00" r="1.35" fill="#fff" stroke="#c0604a" stroke-width="1.1"/>
<circle cx="543.80" cy="269.20" r="1.35" fill="#fff" stroke="#c0604a" stroke-width="1.1"/>
<circle cx="551.10" cy="269.20" r="1.35" fill="#fff" stroke="#c0604a" stroke-width="1.1"/>
<circle cx="540.10" cy="283.00" r="1.35" fill="#fff" stroke="#c0604a" stroke-width="1.1"/>
<circle cx="547.40" cy="283.00" r="1.35" fill="#fff" stroke="#c0604a" stroke-width="1.1"/>
<circle cx="554.70" cy="283.00" r="1.35" fill="#fff" stroke="#c0604a" stroke-width="1.1"/>
<circle cx="540.10" cy="296.40" r="1.35" fill="#fff" stroke="#c0604a" stroke-width="1.1"/>
<circle cx="547.40" cy="296.40" r="1.35" fill="#fff" stroke="#c0604a" stroke-width="1.1"/>
<circle cx="554.70" cy="296.40" r="1.35" fill="#fff" stroke="#c0604a" stroke-width="1.1"/>
<circle cx="547.40" cy="310.00" r="1.35" fill="#fff" stroke="#c0604a" stroke-width="1.1"/>
<path d="M481.80 206.90 V201.30 H547.20 V205.40" fill="none" stroke="#5c5c5c" stroke-width="1"/>
<text transform="translate(515.80 199.50) scale(1 1.0)" font-size="9" text-anchor="middle" fill="#1a1a1a" stroke="#1a1a1a" stroke-width="0.2">***</text>
<text transform="translate(0.00 10.80) scale(1 1.05)" font-size="13.5" text-anchor="start" fill="#1a1a1a" stroke="#1a1a1a" stroke-width="0.45">A</text>
<text transform="translate(237.60 10.80) scale(1 1.05)" font-size="13.5" text-anchor="start" fill="#1a1a1a" stroke="#1a1a1a" stroke-width="0.45">B</text>
<text transform="translate(471.30 10.90) scale(1 1.05)" font-size="13.5" text-anchor="start" fill="#1a1a1a" stroke="#1a1a1a" stroke-width="0.45">C</text>
<text transform="translate(133.00 208.60) scale(1 1.05)" font-size="13.5" text-anchor="start" fill="#1a1a1a" stroke="#1a1a1a" stroke-width="0.45">D</text>
<text transform="translate(386.60 208.60) scale(1 1.05)" font-size="13.5" text-anchor="start" fill="#1a1a1a" stroke="#1a1a1a" stroke-width="0.45">E</text>
</g></svg></div>
</body></html>
